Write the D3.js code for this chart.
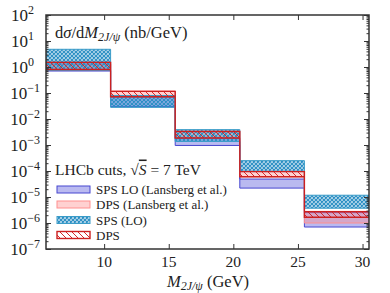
<!DOCTYPE html>
<html>
<head>
<meta charset="utf-8">
<script src="https://cdn.jsdelivr.net/npm/d3@7"></script>
<style>
body { margin: 0; background: #fff; }
</style>
</head>
<body>
<svg id="chart" width="390" height="293" font-family="'Liberation Serif', 'DejaVu Serif', serif"></svg>
<script>
// bins of the invariant mass (GeV)
var binEdges = [5.5, 10.5, 15.5, 20.5, 25.5, 30.5];

// bands, low and high edge per bin (nb/GeV)
var spsLansbergLo = [0.70, 0.030, 0.00096, 2.2e-5, 7.0e-7];
var spsLansbergHi = [1.30, 0.068, 0.0018, 4.9e-5, 2.5e-6];
var dpsLansbergLo = [0.80, 0.070, 0.0019, 6.0e-5, 1.0e-6];
var dpsLansbergHi = [1.60, 0.120, 0.0034, 1.0e-4, 2.8e-6];
var spsLoLo = [0.75, 0.028, 0.00137, 9.5e-5, 3.7e-6];
var spsLoHi = [4.8, 0.080, 0.0039, 2.5e-4, 1.17e-5];
var dpsLo = [0.80, 0.072, 0.00186, 6.0e-5, 1.66e-6];
var dpsHi = [1.50, 0.115, 0.0033, 9.5e-5, 2.7e-6];

var xTicks = [10, 15, 20, 25, 30];
var yExponents = [-7, -6, -5, -4, -3, -2, -1, 0, 1, 2];

var svg = d3.select("#chart");
var L = 46, R = 369, T = 15, B = 249;
var ink = "#222";

var x = d3.scaleLinear().domain([5.5, 30.5]).range([L, R]);
var y = d3.scaleLog().domain([1e-7, 1e2]).range([B, T]);

var defs = svg.append("defs");
defs.append("clipPath").attr("id", "clip")
  .append("rect").attr("x", L).attr("y", T).attr("width", R - L).attr("height", B - T);

var cross = defs.append("pattern").attr("id", "cross")
  .attr("patternUnits", "userSpaceOnUse").attr("width", 4).attr("height", 4);
cross.append("rect").attr("width", 4).attr("height", 4).attr("fill", "rgba(44,143,196,0.22)");
cross.append("path").attr("d", "M0,0L4,4M4,0L0,4M-1,1L1,-1M3,5L5,3M-1,3L1,5M3,-1L5,1")
  .attr("stroke", "#2c8fc4").attr("stroke-width", 1.2);

var diag = defs.append("pattern").attr("id", "diag")
  .attr("patternUnits", "userSpaceOnUse").attr("width", 6).attr("height", 6);
diag.append("path").attr("d", "M0,0L6,6M-1,5L1,7M5,-1L7,1")
  .attr("stroke", "#d62728").attr("stroke-width", 1);

var series = [
  { name: "SPS LO (Lansberg et al.)", lo: spsLansbergLo, hi: spsLansbergHi,
    fill: "rgba(90,90,220,0.42)", stroke: "#4747d0", sw: 1 },
  { name: "DPS (Lansberg et al.)", lo: dpsLansbergLo, hi: dpsLansbergHi,
    fill: "rgba(255,140,140,0.4)", stroke: "#ff8f8f", sw: 1 },
  { name: "SPS (LO)", lo: spsLoLo, hi: spsLoHi,
    fill: "url(#cross)", stroke: "#3a9cc8", sw: 1 },
  { name: "DPS", lo: dpsLo, hi: dpsHi,
    fill: "url(#diag)", stroke: "#cc2020", sw: 1.4 }
];

var area = d3.area()
  .curve(d3.curveStepAfter)
  .x(function(d) { return x(d.e); })
  .y0(function(d) { return y(d.lo); })
  .y1(function(d) { return y(d.hi); });

var plot = svg.append("g").attr("clip-path", "url(#clip)");
series.forEach(function(s) {
  var pts = binEdges.map(function(e, i) {
    var k = Math.min(i, s.lo.length - 1);
    return { e: e, lo: s.lo[k], hi: s.hi[k] };
  });
  plot.append("path").datum(pts).attr("d", area)
    .attr("fill", s.fill).attr("stroke", s.stroke).attr("stroke-width", s.sw);
});

// axes with inward ticks on all sides
var minors = [];
yExponents.forEach(function(p) {
  if (p < 2) for (var m = 2; m < 10; m++) minors.push(m * Math.pow(10, p));
});
var majors = yExponents.map(function(p) { return Math.pow(10, p); });

function tickStyle(g) {
  g.select(".domain").remove();
  g.selectAll("line").attr("stroke", "#333").attr("stroke-width", 1);
  g.selectAll("text").remove();
}
svg.append("g").attr("transform", "translate(" + L + ",0)")
  .call(d3.axisLeft(y).tickValues(majors).tickSize(-5)).call(tickStyle);
svg.append("g").attr("transform", "translate(" + L + ",0)")
  .call(d3.axisLeft(y).tickValues(minors).tickSize(-2.5)).call(tickStyle);
svg.append("g").attr("transform", "translate(" + R + ",0)")
  .call(d3.axisRight(y).tickValues(majors).tickSize(-5)).call(tickStyle);
svg.append("g").attr("transform", "translate(" + R + ",0)")
  .call(d3.axisRight(y).tickValues(minors).tickSize(-2.5)).call(tickStyle);
svg.append("g").attr("transform", "translate(0," + B + ")")
  .call(d3.axisBottom(x).tickValues(xTicks).tickSize(-5)).call(tickStyle);
svg.append("g").attr("transform", "translate(0," + T + ")")
  .call(d3.axisTop(x).tickValues(xTicks).tickSize(-5)).call(tickStyle);

svg.append("rect").attr("x", L).attr("y", T).attr("width", R - L).attr("height", B - T)
  .attr("fill", "none").attr("stroke", "#333").attr("stroke-width", 1.5);

// tick labels
var yl = svg.append("g").selectAll("text").data(yExponents).enter().append("text")
  .attr("x", function(p) { return p < 0 ? 40 : 34; })
  .attr("y", function(p) { return y(Math.pow(10, p)) + 6; })
  .attr("text-anchor", "end").attr("font-size", 17).attr("fill", ink);
yl.append("tspan").text("10");
yl.append("tspan").attr("dy", -7).attr("font-size", 12)
  .text(function(p) { return p < 0 ? "\u2212" + (-p) : String(p); });

svg.append("g").selectAll("text").data(xTicks).enter().append("text")
  .attr("x", function(d) { return x(d); }).attr("y", 267).attr("fill", ink)
  .attr("text-anchor", "middle").attr("font-size", 15.5).text(function(d) { return d; });

// axis label
var xl = svg.append("text").attr("x", 208).attr("y", 287).attr("text-anchor", "middle")
  .attr("font-size", 16.5).attr("fill", ink);
xl.append("tspan").attr("font-style", "italic").text("M");
xl.append("tspan").attr("font-style", "italic").attr("font-size", 12).attr("dy", 3).text("2J/\u03c8");
xl.append("tspan").attr("dy", -3).text(" (GeV)");

var tl = svg.append("text").attr("x", 55).attr("y", 38).attr("font-size", 16.5).attr("fill", ink);
tl.append("tspan").text("d");
tl.append("tspan").attr("font-style", "italic").text("\u03c3");
tl.append("tspan").text("/d");
tl.append("tspan").attr("font-style", "italic").text("M");
tl.append("tspan").attr("font-style", "italic").attr("font-size", 12).attr("dy", 3).text("2J/\u03c8");
tl.append("tspan").attr("dy", -3).text(" (nb/GeV)");

// legend
var lt = svg.append("text").attr("x", 55).attr("y", 174.5).attr("font-size", 15.5).attr("fill", ink);
lt.append("tspan").text("LHCb cuts, \u221a");
lt.append("tspan").attr("font-style", "italic").attr("text-decoration", "overline").text("S");
lt.append("tspan").text(" = 7 TeV");

var rowY = [189.5, 204.5, 220, 235];
var lg = svg.append("g").selectAll("g").data(series).enter().append("g")
  .attr("transform", function(d, i) { return "translate(57," + rowY[i] + ")"; });
lg.append("rect").attr("x", 0).attr("y", -3.5).attr("width", 33).attr("height", 7)
  .attr("fill", function(d) { return d.fill; })
  .attr("stroke", function(d) { return d.stroke; }).attr("stroke-width", function(d) { return d.sw; });
lg.append("text").attr("x", 39).attr("y", 4.5).attr("font-size", 13).attr("fill", ink)
  .text(function(d) { return d.name; });
</script>
</body>
</html>
